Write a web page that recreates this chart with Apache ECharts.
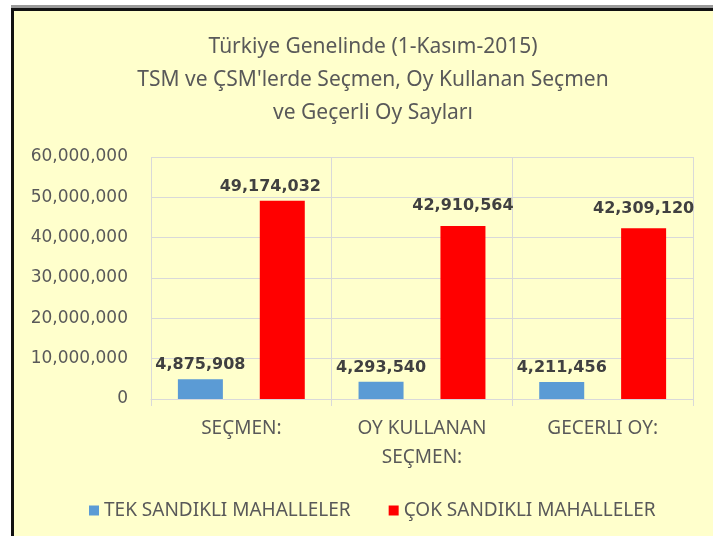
<!DOCTYPE html>
<html>
<head>
<meta charset="utf-8">
<script src="https://cdn.jsdelivr.net/npm/echarts@6/dist/echarts.min.js"></script>
<style>
html,body{margin:0;padding:0;background:#fff;}
#chart{width:713px;height:536px;}
</style>
</head>
<body>
<div id="chart"></div>
<script>
const titleLines = ["Türkiye Genelinde (1-Kasım-2015)", "TSM ve ÇSM'lerde Seçmen, Oy Kullanan Seçmen", "ve Geçerli Oy Sayları"];
const categories = ["SEÇMEN:", "OY KULLANAN\nSEÇMEN:", "GECERLI OY:"];
const seriesNames = ["TEK SANDIKLI MAHALLELER", "ÇOK SANDIKLI MAHALLELER"];
const tekValues = [4875908, 4293540, 4211456];
const cokValues = [49174032, 42910564, 42309120];
const yTicks = [0, 10000000, 20000000, 30000000, 40000000, 50000000, 60000000];

const textFont = "'Noto Sans', sans-serif";
const numFont = "'DejaVu Sans', sans-serif";
const fmt = v => Math.round(v).toString().replace(/\B(?=(\d{3})+(?!\d))/g, ",");

const chart = echarts.init(document.getElementById('chart'), null, {renderer: 'canvas'});
const labelOffsets = [[[0,0],[0,0],[0,0]], [[-12,0],[0,-6],[0,-6]]];
function mkData(vals, si) {
  return vals.map((v, i) => ({value: v, label: {offset: labelOffsets[si][i]}}));
}
chart.setOption({
  backgroundColor: '#FFFFCC',
  animation: false,
  graphic: [
    {type: 'rect', shape: {x: 0, y: 0, width: 11, height: 536}, style: {fill: '#fff'}, silent: true},
    {type: 'rect', shape: {x: 0, y: 0, width: 713, height: 5}, style: {fill: '#fff'}, silent: true},
    {type: 'rect', shape: {x: 11, y: 5, width: 702, height: 3}, style: {fill: '#9a9a9a'}, silent: true},
    {type: 'rect', shape: {x: 11, y: 8, width: 702, height: 3}, style: {fill: '#111'}, silent: true},
    {type: 'rect', shape: {x: 11, y: 8, width: 3, height: 528}, style: {fill: '#111'}, silent: true}
  ],
  title: {
    text: titleLines.join('\n'),
    left: 368, top: 26, textAlign: 'center',
    textStyle: {fontFamily: textFont, fontSize: 21, fontWeight: 'normal', color: '#595959', lineHeight: 33}
  },
  legend: {
    data: seriesNames, left: 84, top: 496, itemWidth: 10, itemHeight: 10, itemGap: 38,
    icon: 'rect',
    textStyle: {fontFamily: textFont, fontSize: 19, color: '#595959'}
  },
  grid: {left: 151, right: 20, top: 157, bottom: 137},
  xAxis: {
    type: 'category', data: categories,
    axisLine: {lineStyle: {color: '#D9D9D9'}},
    axisTick: {show: true, length: 7, lineStyle: {color: '#D9D9D9'}},
    splitLine: {show: true, lineStyle: {color: '#D9D9D9'}},
    axisLabel: {fontFamily: textFont, fontSize: 19, color: '#595959', margin: 15, lineHeight: 29}
  },
  yAxis: {
    type: 'value', min: 0, max: 60000000, interval: 10000000,
    axisLine: {show: false}, axisTick: {show: false},
    splitLine: {lineStyle: {color: '#D9D9D9'}},
    axisLabel: {fontFamily: numFont, fontSize: 17, color: '#595959', margin: 23, formatter: v => fmt(v)}
  },
  series: [
    {name: seriesNames[0], type: 'bar', data: mkData(tekValues, 0), barWidth: 45, barGap: '82%',
     itemStyle: {color: '#5B9BD5'},
     label: {show: true, position: 'top', distance: 6, fontFamily: numFont, fontWeight: 'bold', fontSize: 16, color: '#404040', formatter: p => fmt(p.value)}},
    {name: seriesNames[1], type: 'bar', data: mkData(cokValues, 1), barWidth: 45, barGap: '82%',
     itemStyle: {color: '#FF0000'},
     label: {show: true, position: 'top', distance: 6, fontFamily: numFont, fontWeight: 'bold', fontSize: 16, color: '#404040', formatter: p => fmt(p.value)}}
  ]
});
</script>
</body>
</html>
